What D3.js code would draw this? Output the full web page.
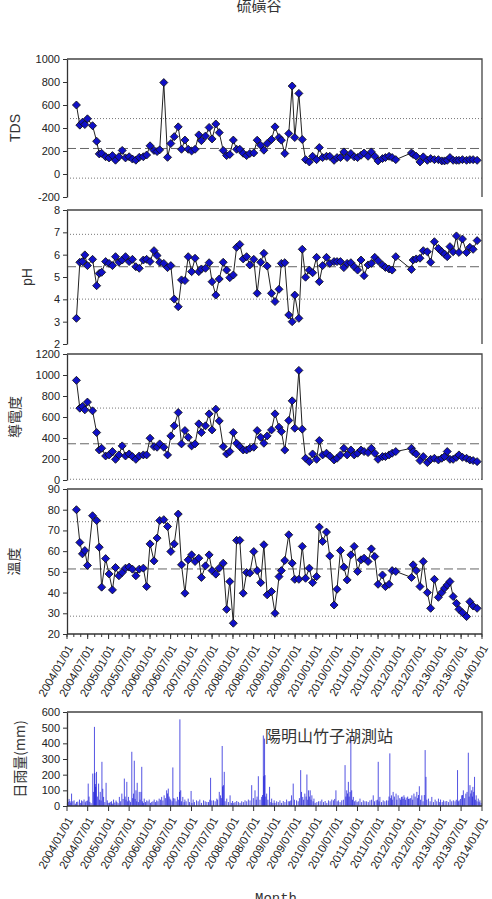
<!DOCTYPE html>
<meta charset="utf-8">
<style>
body { margin: 0; background: #fff; }
text { font-family: "Liberation Sans", Arial, sans-serif; fill: #222; }
.cjk { font-family: "Noto Sans CJK TC", "Noto Sans CJK SC", sans-serif; }
.axis path, .axis line { stroke: #333; }
</style>
<svg width="492" height="899"></svg>
<script src="https://d3js.org/d3.v7.min.js"></script>
<script>

// sampling dates (same for all four water-quality panels)
var sampleDates = [
  "2004-03-24","2004-04-23","2004-05-16","2004-06-06","2004-06-29","2004-08-13","2004-09-18","2004-10-11","2004-11-01","2004-12-06",
  "2005-01-05","2005-02-04","2005-03-03","2005-04-02","2005-05-01","2005-05-30","2005-07-01","2005-07-30","2005-08-29","2005-09-28",
  "2005-11-03","2005-12-02","2006-01-01","2006-02-05","2006-03-04","2006-03-27","2006-05-02","2006-06-04","2006-07-03","2006-08-02",
  "2006-09-06","2006-10-05","2006-11-04","2006-12-03","2007-01-02","2007-02-01","2007-03-06","2007-03-29","2007-05-04","2007-06-05",
  "2007-07-01","2007-08-03","2007-09-02","2007-10-07","2007-11-06","2007-12-04","2008-01-04","2008-02-02","2008-03-01","2008-03-31",
  "2008-04-30","2008-05-28","2008-07-02","2008-08-01","2008-09-01","2008-09-29","2008-10-28","2008-12-05","2009-01-05","2009-02-09",
  "2009-03-02","2009-04-01","2009-05-06","2009-06-05","2009-06-28","2009-08-03","2009-09-02","2009-10-01","2009-11-03","2009-12-02",
  "2010-01-06","2010-01-30","2010-02-28","2010-04-03","2010-05-02","2010-06-09","2010-07-05","2010-08-04","2010-09-03","2010-10-02",
  "2010-11-04","2010-12-03","2011-01-02","2011-02-01","2011-02-28","2011-04-04","2011-05-03","2011-06-02","2011-07-01","2011-08-09",
  "2011-09-04","2011-10-06","2011-11-02","2011-12-04","2012-04-20","2012-05-05","2012-06-01","2012-07-04","2012-08-02","2012-09-07",
  "2012-10-06","2012-11-08","2012-12-13","2013-01-12","2013-02-05","2013-03-01","2013-03-25","2013-04-22","2013-05-21","2013-06-12",
  "2013-07-13","2013-08-18","2013-09-16","2013-10-15","2013-11-19"
];

var tds = [
  600,425,450,430,480,420,285,175,180,150,
  140,160,120,150,205,140,150,130,120,145,
  150,165,245,205,195,210,795,145,265,325,
  410,215,295,215,200,215,340,290,330,405,
  305,435,360,205,160,170,295,215,215,180,
  160,178,183,294,250,207,265,300,410,317,
  294,178,352,765,317,701,300,125,105,154,
  125,230,143,154,154,119,143,143,192,143,
  178,149,143,163,183,154,192,154,114,134,
  143,154,143,125,183,170,154,105,149,119,
  134,125,125,114,114,119,143,119,119,119,
  125,119,125,125,119
];

var ph = [
  3.15,5.66,5.69,5.99,5.51,5.79,4.61,5.16,5.21,5.69,
  5.61,5.51,5.91,5.66,5.76,5.91,5.69,5.79,5.46,5.39,
  5.76,5.79,5.69,6.18,5.96,5.66,5.61,5.42,5.51,4.01,
  3.67,4.87,4.84,5.91,5.24,5.84,5.24,5.36,5.39,5.64,
  4.79,4.19,4.91,5.66,5.31,4.97,5.09,6.33,6.46,5.81,
  5.91,5.54,5.79,4.27,5.66,6.06,5.49,4.27,3.90,4.45,
  5.61,5.64,3.30,3.00,4.19,3.15,6.24,4.99,5.31,5.19,
  5.88,4.79,5.51,5.88,5.61,5.69,5.69,5.69,5.42,5.61,
  5.64,5.46,5.31,5.76,5.06,5.54,5.61,5.88,5.73,5.54,
  5.43,5.36,5.31,5.91,5.34,5.76,5.81,5.84,6.18,6.13,
  5.66,6.58,6.28,6.13,6.03,5.91,6.36,6.13,6.84,6.10,
  6.70,6.10,6.33,6.24,6.63
];

var cond = [
  949,684,700,668,742,659,452,286,302,229,
  239,271,197,239,325,229,248,223,197,229,
  239,239,398,318,312,344,312,239,420,516,
  643,344,471,407,325,344,535,452,516,630,
  477,675,563,318,248,271,452,350,318,286,
  286,302,312,471,407,350,420,477,630,503,
  462,286,567,754,493,1044,484,207,175,248,
  197,376,239,255,229,191,207,239,302,239,
  286,239,255,286,271,261,302,255,197,223,
  223,239,255,271,302,270,248,185,223,166,
  197,207,191,207,223,271,197,197,216,239,
  216,207,191,185,175
];

var temp = [
  80.0,64.2,58.7,60.3,53.1,77.1,74.8,61.9,42.6,56.4,
  49.0,41.3,52.1,48.1,49.7,51.8,52.3,51.3,48.1,51.3,
  51.8,42.9,63.5,55.3,66.3,74.8,75.2,71.9,59.8,63.5,
  77.9,53.4,39.7,55.8,58.2,55.0,56.6,47.3,52.9,58.2,
  50.6,48.9,51.8,54.2,31.9,45.3,25.2,65.2,65.2,39.7,
  49.7,49.4,59.8,50.6,44.8,63.1,38.9,40.5,30.0,47.7,
  50.6,55.5,67.9,54.2,46.4,46.4,62.3,46.9,51.8,44.8,
  47.7,71.6,64.7,69.2,57.7,34.0,41.6,60.3,52.3,46.1,
  58.2,62.3,50.2,55.8,56.6,55.0,61.1,57.4,44.0,48.5,
  42.9,44.0,50.6,50.2,47.3,53.4,50.6,42.9,55.0,40.0,
  32.4,46.4,37.7,40.0,42.1,43.7,45.3,38.1,34.8,31.9,
  30.3,28.4,35.6,33.5,32.4
];

// mean (dashed) and mean +/- 2 SD (dotted)
var tdsRef = [222, 482, -36];
var phRef = [5.46, 6.91, 4.01];
var condRef = [345, 685, 7];
var tempRef = [51.4, 74.2, 28.6];

var tdsTicks = [-200, 0, 200, 400, 600, 800, 1000];
var phTicks = [2, 3, 4, 5, 6, 7, 8];
var condTicks = [0, 200, 400, 600, 800, 1000, 1200];
var tempTicks = [20, 30, 40, 50, 60, 70, 80, 90];
var rainTicks = [0, 100, 200, 300, 400, 500, 600];

var dateTicks = [
  "2004/01/01","2004/07/01","2005/01/01","2005/07/01","2006/01/01","2006/07/01","2007/01/01",
  "2007/07/01","2008/01/01","2008/07/01","2009/01/01","2009/07/01","2010/01/01","2010/07/01",
  "2011/01/01","2011/07/01","2012/01/01","2012/07/01","2013/01/01","2013/07/01","2014/01/01"
];

// daily rainfall at 竹子湖 (decimal year, mm)
var rainYear = [
  2004.03,2004.07,2004.11,2004.17,2004.23,2004.30,2004.35,2004.41,2004.46,2004.51,2004.55,2004.62,2004.66,2004.69,2004.71,2004.76,2004.80,2004.84,2004.88,2004.94,2004.97,
  2005.04,2005.12,2005.20,2005.26,2005.32,2005.38,2005.44,2005.48,2005.56,2005.60,2005.62,2005.66,2005.69,2005.74,2005.78,2005.80,2005.86,2005.92,2005.98,
  2006.04,2006.10,2006.16,2006.22,2006.28,2006.34,2006.40,2006.44,2006.48,2006.55,2006.60,2006.66,2006.72,2006.74,2006.79,2006.84,2006.92,2006.99,
  2007.04,2007.12,2007.20,2007.29,2007.37,2007.46,2007.53,2007.61,2007.67,2007.70,2007.74,2007.77,2007.79,2007.85,2007.93,2007.99,
  2008.09,2008.13,2008.21,2008.29,2008.37,2008.45,2008.53,2008.61,2008.69,2008.73,2008.76,2008.77,2008.81,2008.88,2008.93,2008.99,
  2009.05,2009.13,2009.21,2009.29,2009.36,2009.41,2009.45,2009.53,2009.63,2009.68,2009.73,2009.78,2009.82,2009.86,2009.90,2009.95,
  2010.06,2010.14,2010.22,2010.30,2010.38,2010.42,2010.48,2010.54,2010.62,2010.70,2010.74,2010.78,2010.84,2010.86,2010.90,2010.96,
  2011.06,2011.14,2011.22,2011.30,2011.38,2011.45,2011.50,2011.54,2011.62,2011.70,2011.78,2011.82,2011.86,2011.93,2011.98,
  2012.06,2012.12,2012.19,2012.25,2012.31,2012.36,2012.43,2012.49,2012.55,2012.63,2012.65,2012.71,2012.79,2012.87,2012.95,2013.00,
  2013.07,2013.15,2013.23,2013.31,2013.41,2013.45,2013.51,2013.55,2013.61,2013.67,2013.71,2013.75,2013.78,2013.82,2013.86,2013.91,2013.95,
  // smaller daily bars
  2004.01,2004.05,2004.09,2004.14,2004.20,2004.26,2004.33,2004.38,2004.44,2004.49,2004.53,2004.58,2004.64,2004.67,2004.68,2004.73,2004.78,2004.82,2004.86,2004.91,2004.99,
  2005.02,2005.07,2005.09,2005.15,2005.18,2005.23,2005.29,2005.35,2005.40,2005.42,2005.46,2005.51,2005.53,2005.58,2005.64,2005.68,2005.72,2005.76,2005.82,2005.84,2005.89,2005.95,
  2006.01,2006.07,2006.13,2006.19,2006.25,2006.31,2006.37,2006.42,2006.46,2006.50,2006.53,2006.57,2006.63,2006.69,2006.71,2006.76,2006.82,2006.87,2006.95,
  2007.01,2007.07,2007.16,2007.24,2007.33,2007.41,2007.44,2007.49,2007.57,2007.63,2007.72,2007.75,2007.81,2007.89,2007.96,
  2008.02,2008.05,2008.17,2008.25,2008.33,2008.41,2008.49,2008.56,2008.58,2008.65,2008.71,2008.74,2008.79,2008.84,2008.91,2008.96,
  2009.01,2009.09,2009.17,2009.25,2009.33,2009.39,2009.48,2009.57,2009.60,2009.65,2009.70,2009.76,2009.80,2009.84,2009.88,2009.93,2009.98,
  2010.02,2010.10,2010.18,2010.26,2010.34,2010.45,2010.51,2010.58,2010.66,2010.72,2010.76,2010.80,2010.82,2010.88,2010.93,2010.99,
  2011.02,2011.10,2011.18,2011.26,2011.34,2011.41,2011.48,2011.52,2011.58,2011.66,2011.74,2011.76,2011.80,2011.84,2011.89,2011.95,
  2012.02,2012.04,2012.08,2012.10,2012.14,2012.16,2012.21,2012.23,2012.28,2012.33,2012.39,2012.45,2012.47,2012.52,2012.58,2012.61,2012.67,2012.75,2012.83,2012.91,2012.98,
  2013.04,2013.11,2013.19,2013.27,2013.35,2013.38,2013.43,2013.48,2013.53,2013.58,2013.64,2013.69,2013.73,2013.77,2013.80,2013.84,2013.88,2013.93,2013.98
];
var rainMm = [
  26,32,79,36,26,41,36,41,32,143,26,207,505,122,218,143,90,282,58,148,36,
  26,41,26,58,79,175,154,58,346,79,289,100,148,90,90,250,47,36,41,
  26,41,36,47,58,68,100,111,47,246,47,58,553,100,58,41,47,96,
  41,36,41,36,26,180,36,47,90,68,383,133,218,47,68,32,
  32,26,30,36,41,133,100,190,58,450,430,197,79,122,47,36,
  30,36,32,41,30,68,143,36,229,58,79,201,100,100,68,47,
  30,41,32,36,41,36,100,36,36,261,100,154,450,100,58,36,
  47,36,30,36,68,36,282,58,36,36,336,68,90,79,68,
  58,68,53,47,68,79,90,126,68,357,186,47,58,41,47,41,
  36,32,41,36,229,36,68,100,79,340,133,100,122,186,68,47,36,
  18,45,22,30,15,28,20,30,24,35,60,18,90,210,140,60,40,35,110,25,20,
  20,30,15,22,35,18,30,45,60,40,30,35,25,50,45,30,25,40,30,20,25,30,
  20,30,25,30,40,35,50,80,60,40,30,50,30,40,90,30,25,30,25,
  20,25,30,20,30,25,40,35,30,40,50,125,30,25,20,
  20,25,20,25,30,35,50,40,60,40,70,190,60,40,25,20,
  20,25,20,25,30,35,40,30,50,90,40,60,40,60,40,30,20,
  25,30,25,20,30,45,30,25,40,60,80,60,90,40,30,25,
  30,25,30,25,40,30,40,30,25,30,35,60,50,40,60,40,
  50,40,60,45,55,40,60,45,50,40,60,50,70,40,30,70,40,30,25,30,25,
  25,30,25,30,30,40,30,45,70,50,90,60,80,60,90,40,30,25,20
];

var svg = d3.select("svg");
var parseDate = d3.timeParse("%Y-%m-%d"),
    parseTick = d3.timeParse("%Y/%m/%d");

var left = 67, right = 482;
var x = d3.scaleTime()
    .domain([parseTick(dateTicks[0]), parseTick(dateTicks[dateTicks.length - 1])])
    .range([left, right]);

function yearToDate(yr) {
  var y0 = Math.floor(yr);
  var a = new Date(y0, 0, 1), b = new Date(y0 + 1, 0, 1);
  return new Date(+a + (yr - y0) * (b - a));
}

function plain(d) { return String(d); }

// title
svg.append("text").attr("class", "cjk")
    .attr("x", 259).attr("y", 11)
    .attr("text-anchor", "middle")
    .style("font-size", "15px").style("fill", "#333")
    .text("硫磺谷");

var panels = [
  {name: "TDS", values: tds, ref: tdsRef, domain: [-200, 1000], ticks: tdsTicks, top: 59, bottom: 197, lx: 15, cjk: false},
  {name: "pH", values: ph, ref: phRef, domain: [2, 8], ticks: phTicks, top: 210, bottom: 344, lx: 27, cjk: false},
  {name: "導電度", values: cond, ref: condRef, domain: [0, 1200], ticks: condTicks, top: 354, bottom: 480, lx: 15, cjk: true},
  {name: "溫度", values: temp, ref: tempRef, domain: [20, 90], ticks: tempTicks, top: 489, bottom: 634, lx: 14, cjk: true}
];

panels.forEach(function(p) {
  var y = d3.scaleLinear().domain(p.domain).range([p.bottom, p.top]);
  var g = svg.append("g");

  g.selectAll("line.ref")
    .data(p.ref)
    .enter().append("line")
      .attr("class", "ref")
      .attr("x1", left).attr("x2", right)
      .attr("y1", function(d) { return y(d); })
      .attr("y2", function(d) { return y(d); })
      .attr("stroke", function(d, i) { return i ? "#777" : "#666"; })
      .attr("stroke-width", 1)
      .attr("stroke-dasharray", function(d, i) { return i ? "1,2" : "9,4"; });

  // frame: top and right
  g.append("path")
      .attr("d", "M" + left + "," + p.top + "H" + right + "V" + p.bottom)
      .attr("fill", "none").attr("stroke", "#444").attr("stroke-width", 1.3);

  g.append("g")
      .attr("class", "axis")
      .attr("transform", "translate(" + left + ",0)")
      .call(d3.axisLeft(y).tickValues(p.ticks).tickFormat(plain).tickSize(4).tickSizeOuter(0).tickPadding(3))
      .call(function(a) {
        a.select(".domain").attr("stroke-width", 1.3);
        a.selectAll("text").style("font-size", "11px").style("fill", "#222")
          .style("font-family", "'Liberation Sans', Arial, sans-serif");
      });

  svg.append("text")
      .attr("class", p.cjk ? "cjk" : null)
      .attr("transform", "translate(" + p.lx + "," + ((p.top + p.bottom) / 2) + ") rotate(-90)")
      .attr("text-anchor", "middle")
      .attr("dy", "0.35em")
      .style("font-size", "14px")
      .style("fill", "#333")
      .text(p.name);

  var pts = sampleDates.map(function(d, i) { return {t: parseDate(d), v: p.values[i]}; })
      .filter(function(d) { return d.v != null; });

  g.append("path")
      .datum(pts)
      .attr("fill", "none")
      .attr("stroke", "#222")
      .attr("stroke-width", 1)
      .attr("d", d3.line().x(function(d) { return x(d.t); }).y(function(d) { return y(d.v); }));

  g.selectAll("path.pt")
    .data(pts)
    .enter().append("path")
      .attr("class", "pt")
      .attr("d", d3.symbol(d3.symbolSquare, 32))
      .attr("transform", function(d) { return "translate(" + x(d.t) + "," + y(d.v) + ") rotate(45)"; })
      .attr("fill", "#1010c8")
      .attr("stroke", "#111")
      .attr("stroke-width", 0.8);
});

function dateAxis(y0, minor) {
  var g = svg.append("g");
  g.append("line").attr("x1", left).attr("x2", right).attr("y1", y0).attr("y2", y0)
      .attr("stroke", "#333").attr("stroke-width", 1.3);
  if (minor) {
    g.selectAll("line.minor")
      .data(x.ticks(d3.timeMonth.every(2)))
      .enter().append("line")
        .attr("x1", function(d) { return x(d); }).attr("x2", function(d) { return x(d); })
        .attr("y1", y0).attr("y2", y0 + 3)
        .attr("stroke", "#333");
  }
  g.selectAll("line.major")
    .data(dateTicks)
    .enter().append("line")
      .attr("x1", function(d) { return x(parseTick(d)); }).attr("x2", function(d) { return x(parseTick(d)); })
      .attr("y1", y0).attr("y2", y0 + 5)
      .attr("stroke", "#333");
  g.selectAll("text")
    .data(dateTicks)
    .enter().append("text")
      .attr("transform", function(d) { return "translate(" + (x(parseTick(d)) + 3) + "," + (y0 + 12) + ") rotate(-60)"; })
      .attr("text-anchor", "end")
      .attr("dy", "0.35em")
      .style("font-size", "11.5px")
      .style("fill", "#222")
      .text(function(d) { return d; });
}

dateAxis(634, true);

// rainfall panel
var rTop = 712, rBottom = 806;
var yr = d3.scaleLinear().domain([0, 600]).range([rBottom, rTop]);

svg.append("g").selectAll("line")
  .data(rainYear.map(function(d, i) { return {t: yearToDate(d), v: rainMm[i]}; }))
  .enter().append("line")
    .attr("x1", function(d) { return x(d.t); }).attr("x2", function(d) { return x(d.t); })
    .attr("y1", yr(0)).attr("y2", function(d) { return yr(d.v); })
    .attr("stroke", "#1a1ad8").attr("stroke-opacity", 0.75).attr("stroke-width", 1);

svg.append("path")
    .attr("d", "M" + left + "," + rTop + "H" + right + "V" + rBottom)
    .attr("fill", "none").attr("stroke", "#444").attr("stroke-width", 1.3);

svg.append("g")
    .attr("class", "axis")
    .attr("transform", "translate(" + left + ",0)")
    .call(d3.axisLeft(yr).tickValues(rainTicks).tickFormat(plain).tickSize(4).tickSizeOuter(0).tickPadding(3))
    .call(function(a) {
      a.select(".domain").attr("stroke-width", 1.3);
      a.selectAll("text").style("font-size", "11px").style("fill", "#222");
    });

dateAxis(rBottom, false);

svg.append("text").attr("class", "cjk")
    .attr("transform", "translate(20," + ((rTop + rBottom) / 2) + ") rotate(-90)")
    .attr("text-anchor", "middle").attr("dy", "0.35em")
    .style("font-size", "14px").style("fill", "#333")
    .text("日雨量(mm)");

svg.append("text").attr("class", "cjk")
    .attr("x", 265).attr("y", 742)
    .style("font-size", "16px").style("fill", "#333")
    .text("陽明山竹子湖測站");

svg.append("text")
    .attr("x", 276).attr("y", 903)
    .attr("text-anchor", "middle")
    .style("font-family", "'Liberation Mono', 'DejaVu Sans Mono', monospace")
    .style("font-size", "14px").style("fill", "#333")
    .text("Month");

</script>
